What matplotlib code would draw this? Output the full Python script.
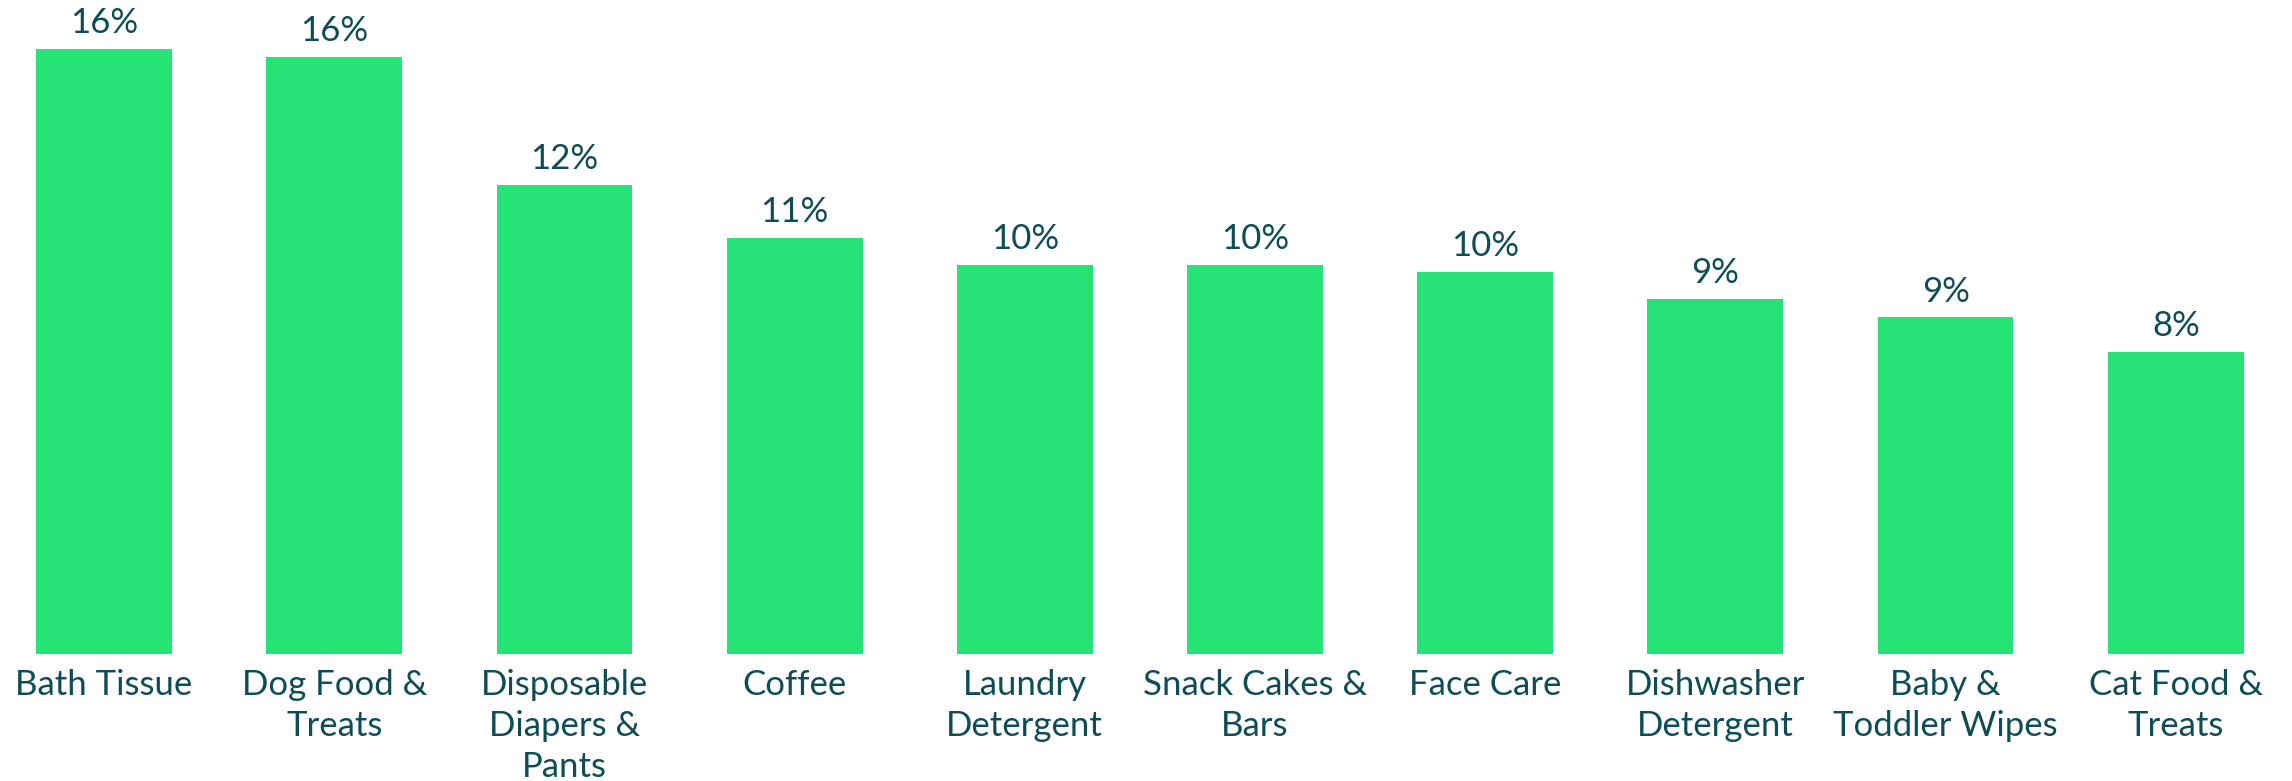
import matplotlib
matplotlib.use("Agg")
import matplotlib.pyplot as plt

categories = ["Bath Tissue", "Dog Food &\nTreats", "Disposable\nDiapers &\nPants", "Coffee",
              "Laundry\nDetergent", "Snack Cakes &\nBars", "Face Care", "Dishwasher\nDetergent",
              "Baby &\nToddler Wipes", "Cat Food &\nTreats"]
shares = [16.0, 15.8, 12.4, 11.0, 10.3, 10.3, 10.1, 9.4, 8.9, 8.0]

BAR_COLOR = "#26E375"
TEXT_COLOR = "#0E4D55"

plt.rcParams["font.family"] = ["Lato", "DejaVu Sans"]

fig = plt.figure(figsize=(22.92, 7.81), dpi=100)
ax = fig.add_axes([0, 0.1626, 1, 0.8374])

x = range(len(categories))
bars = ax.bar(x, shares, width=0.59, color=BAR_COLOR)

for rect, v in zip(bars, shares):
    ax.annotate(f"{v:.0f}%", (rect.get_x() + rect.get_width() / 2, rect.get_height()),
                xytext=(0, 11.5), textcoords="offset points", ha="center", va="baseline",
                fontsize=25, color=TEXT_COLOR)

ax.set_xlim(-0.452, 9.505)
ax.set_ylim(0, 654 / 37.81)
ax.set_xticks(list(x))
ax.set_xticklabels(categories, fontsize=25, color=TEXT_COLOR, linespacing=1.34)
ax.tick_params(axis="x", length=0, pad=11)
ax.set_yticks([])
for s in ax.spines.values():
    s.set_visible(False)

fig.savefig("out.png", dpi=100, facecolor="white")
